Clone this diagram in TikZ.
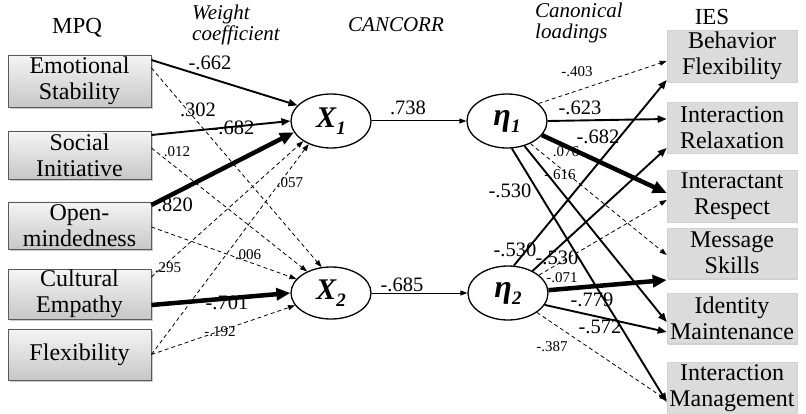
\documentclass[tikz,border=0pt]{standalone}
\usepackage{fontspec}
\setmainfont{Liberation Serif}
\usetikzlibrary{arrows.meta,shadows,calc,shapes.geometric}
\begin{document}
\begin{tikzpicture}[x=1pt,y=-1pt,
  lbox/.style={draw=black!65,line width=0.9pt,top color=black!4,bottom color=black!22,
    minimum width=143pt,inner sep=0pt,align=center,
    font=\fontsize{24}{26}\selectfont,
    drop shadow={shadow xshift=1.5pt,shadow yshift=-2pt,fill=black!35,opacity=0.6}},
  rbox/.style={draw=black!18,line width=0.6pt,fill=black!14,
    minimum width=130pt,inner sep=0pt,align=center,
    font=\fontsize{24}{26}\selectfont,
    drop shadow={shadow xshift=1pt,shadow yshift=-1.5pt,fill=black!30,opacity=0.6}},
  lat/.style={draw=black,line width=1.3pt,fill=white,ellipse,minimum width=80pt,
    minimum height=54pt,inner sep=0pt,font=\fontsize{30}{30}\selectfont\bfseries\itshape},
  big/.style={font=\fontsize{20.5}{20.5}\selectfont,inner sep=0pt},
  small/.style={font=\fontsize{15}{15}\selectfont,inner sep=0pt},
  head/.style={font=\fontsize{23}{23}\selectfont,inner sep=0pt},
  ihead/.style={font=\fontsize{21}{21}\selectfont\itshape,inner sep=0pt,align=left},
  thinarr/.style={line width=1pt,-{Triangle[length=7pt,width=5pt]}},
  medarr/.style={line width=1.9pt,-{Triangle[length=9pt,width=7pt]}},
  thickarr/.style={line width=4.5pt,-{Triangle[length=14pt,width=12pt]}},
  dasharr/.style={line width=0.8pt,dash pattern=on 4pt off 3pt,-{Triangle[length=7pt,width=5pt]}}
]
\useasboundingbox (0,0) rectangle (806,414);

% headers
\node[head] (mpq) at (77,28) {MPQ};
\node[ihead,anchor=west] (wc) at (192,25) {Weight\\coefficient};
\node[ihead] (cc) at (396,25) {CANCORR};
\node[ihead,anchor=west] (cl) at (535,23) {Canonical\\loadings};
\node[head] (ies) at (712,17) {IES};

% left boxes
\node[lbox,minimum height=52pt] (es) at (79.5,81) {Emotional\\Stability};
\node[lbox,minimum height=48pt] (si) at (79.5,155) {Social\\Initiative};
\node[lbox,minimum height=47pt] (om) at (79.5,225.5) {Open-\\mindedness};
\node[lbox,minimum height=50pt] (ce) at (79.5,294) {Cultural\\Empathy};
\node[lbox,minimum height=51pt] (fl) at (79.5,354.5) {Flexibility};

% right boxes
\node[rbox,minimum height=52pt] (bf) at (732,56) {Behavior\\Flexibility};
\node[rbox,minimum height=51pt] (ir) at (732,127.5) {Interaction\\Relaxation};
\node[rbox,minimum height=52pt] (ire) at (732,196) {Interactant\\Respect};
\node[rbox,minimum height=50pt] (ms) at (732,253) {Message\\Skills};
\node[rbox,minimum height=50pt] (im) at (732,318) {Identity\\Maintenance};
\node[rbox,minimum height=52pt] (img) at (732,388) {Interaction\\Management};

% latent variables
\node[lat] (x1) at (331,121) {X\raisebox{-7pt}{\fontsize{19}{19}\selectfont 1}};
\node[lat,minimum height=52pt] (x2) at (331,293) {X\raisebox{-7pt}{\fontsize{19}{19}\selectfont 2}};
\node[lat] (e1) at (507,121) {\fontsize{32}{32}\selectfont η\raisebox{-7pt}{\fontsize{19}{19}\selectfont 1}};
\node[lat] (e2) at (508,293) {\fontsize{32}{32}\selectfont η\raisebox{-7pt}{\fontsize{19}{19}\selectfont 2}};

% left arrows to X1
\draw[medarr] ([yshift=21pt]es.east) -- (x1.155);
\draw[medarr] ([yshift=20pt]si.east) -- (x1.180);
\draw[thickarr] ([yshift=20.5pt]om.east) -- (x1.197);
\draw[dasharr] ([yshift=17pt]ce.east) -- (x1.216);
\draw[dasharr] (fl.east) -- (x1.226);
% left arrows to X2
\draw[dasharr] ([yshift=13pt]es.east) -- (x2.110);
\draw[dasharr] ([yshift=7pt]si.east) -- (x2.138);
\draw[dasharr] ([yshift=-1.5pt]om.east) -- (x2.158);
\draw[thickarr] ([yshift=-11pt]ce.east) -- (x2.180);
\draw[dasharr] (fl.east) -- (x2.199);

% middle
\draw[thinarr] (x1.east) -- (e1.west);
\draw[thinarr] (x2.east) -- (e2.west);

% eta1 arrows
\draw[dasharr] (e1.29) -- ([yshift=-5pt]bf.west);
\draw[medarr] (e1.0) -- ([yshift=8.5pt]ir.west);
\draw[thickarr] (e1.338) -- ([yshift=3pt]ire.west);
\draw[dasharr] (e1.316) -- ([yshift=-2pt]ms.west);
\draw[medarr] (e1.305) -- ([yshift=-4pt]im.west);
\draw[medarr] (e1.280) -- ([yshift=-14pt]img.west);
% eta2 arrows
\draw[medarr] (e2.78) -- ([yshift=-24pt]bf.west);
\draw[medarr] (e2.42) -- ([yshift=-20.5pt]ir.west);
\draw[dasharr] (e2.30) -- ([yshift=-4pt]ire.west);
\draw[thickarr] (e2.4) -- ([yshift=-27pt]ms.west);
\draw[medarr] (e2.342) -- ([yshift=-14pt]im.west);
\draw[dasharr] (e2.326) -- ([yshift=-12pt]img.west);

% left labels
\node[big] (l1) at (210,63) {-.662};
\node[big] (l2) at (198,110) {.302};
\node[big] (l3) at (233,128) {-.682};
\node[small] (l4) at (177,152) {.012};
\node[big] (l5) at (175,205) {.820};
\node[small] (l6) at (290,183) {.057};
\node[small] (l7) at (248,255) {.006};
\node[small] (l8) at (168,268) {.295};
\node[big] (l9) at (227,303) {-.701};
\node[small] (l10) at (220,332) {-.192};
% middle labels
\node[big] (m1) at (408,108) {.738};
\node[big] (m2) at (402,285) {-.685};
% right labels
\node[small] (r1) at (577,72) {-.403};
\node[big] (r2) at (580,108) {-.623};
\node[big] (r3) at (598,137) {-.682};
\node[small] (r4) at (566,152) {.076};
\node[small] (r5) at (560,175) {-.616};
\node[big] (r6) at (510,191) {-.530};
\node[big] (r7) at (515,250) {-.530};
\node[big] (r8) at (557,258) {-.530};
\node[small] (r9) at (562,278) {-.071};
\node[big] (r10) at (592,300) {-.779};
\node[big] (r11) at (600,327) {-.572};
\node[small] (r12) at (552,347) {-.387};
\end{tikzpicture}
\end{document}
